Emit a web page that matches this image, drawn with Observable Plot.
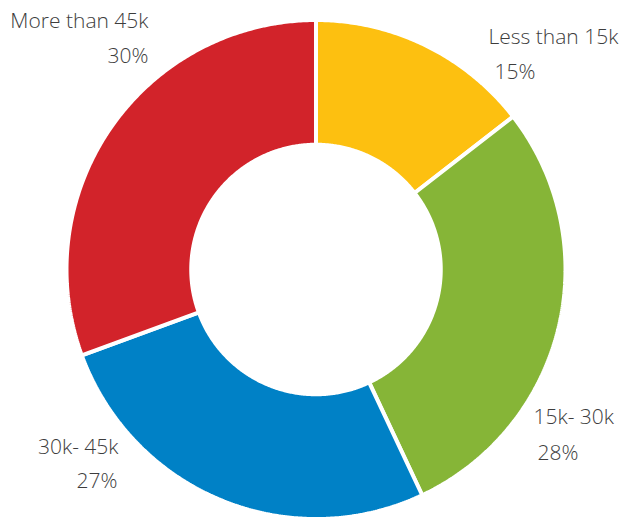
<!DOCTYPE html>
<html><head><meta charset="utf-8">
<script src="https://cdn.jsdelivr.net/npm/d3@7"></script>
<script src="https://cdn.jsdelivr.net/npm/@observablehq/plot@0.6"></script>
<style>
html,body{margin:0;padding:0;background:#fff;}
#chart svg{display:block;}
</style>
</head><body><div id="chart"></div>
<script>
// Data
const categories = ["Less than 15k", "15k- 30k", "30k- 45k", "More than 45k"];
const shares = [14.5, 28.5, 26.4, 30.6];
const percentLabels = ["15%", "28%", "27%", "30%"];
const colors = ["#FDC010", "#86B537", "#0081C6", "#D2232A"];

// Layout (pixels)
const W = 619, H = 520, CX = 315.5, CY = 269, R = 249.5, INNER = 0.5;
const labelLayout = [
  {px: 488, py: 43, anchor: "start", ppx: 494, ppy: 78},
  {px: 533, py: 423, anchor: "start", ppx: 537, ppy: 459},
  {px: 118, py: 453, anchor: "end", ppx: 117, ppy: 487},
  {px: 148, py: 27, anchor: "end", ppx: 148, ppy: 62}
];
const toX = px => (px - CX) / R;
const toY = py => (CY - py) / R;

// Build slice polygons in data units
const total = d3.sum(shares);
const pts = [];
let acc = 0;
categories.forEach((c, i) => {
  const a0 = acc / total * 2 * Math.PI;
  acc += shares[i];
  const a1 = acc / total * 2 * Math.PI;
  const n = Math.max(8, Math.ceil((a1 - a0) / (Math.PI / 360)));
  for (let k = 0; k <= n; k++) {
    const a = a0 + (a1 - a0) * k / n;
    pts.push({cat: c, x: Math.sin(a), y: Math.cos(a)});
  }
  for (let k = n; k >= 0; k--) {
    const a = a0 + (a1 - a0) * k / n;
    pts.push({cat: c, x: INNER * Math.sin(a), y: INNER * Math.cos(a)});
  }
});

const labels = categories.map((c, i) => ({
  name: c, pct: percentLabels[i], anchor: labelLayout[i].anchor,
  x: toX(labelLayout[i].px), y: toY(labelLayout[i].py),
  px2: toX(labelLayout[i].ppx), py2: toY(labelLayout[i].ppy)
}));

const font = "'Open Sans', sans-serif";
const textOpts = {fontSize: 21, fill: "#3d3d3d", lineAnchor: "bottom", fontWeight: 300};

const chart = Plot.plot({
  width: W, height: H,
  margin: 0,
  style: {fontFamily: font, background: "#fff"},
  x: {domain: [toX(0), toX(W)], axis: null},
  y: {domain: [toY(H), toY(0)], axis: null},
  color: {domain: categories, range: colors},
  marks: [
    Plot.line(pts, {x: "x", y: "y", z: "cat", fill: "cat", stroke: "#fff", strokeWidth: 4, curve: "linear-closed", strokeLinejoin: "miter"}),
    Plot.text(labels.filter(d => d.anchor === "start"), {x: "x", y: "y", text: "name", textAnchor: "start", ...textOpts}),
    Plot.text(labels.filter(d => d.anchor === "start"), {x: "px2", y: "py2", text: "pct", textAnchor: "start", ...textOpts}),
    Plot.text(labels.filter(d => d.anchor === "end"), {x: "x", y: "y", text: "name", textAnchor: "end", ...textOpts}),
    Plot.text(labels.filter(d => d.anchor === "end"), {x: "px2", y: "py2", text: "pct", textAnchor: "end", ...textOpts})
  ]
});
document.getElementById("chart").appendChild(chart);
</script>
</body></html>
